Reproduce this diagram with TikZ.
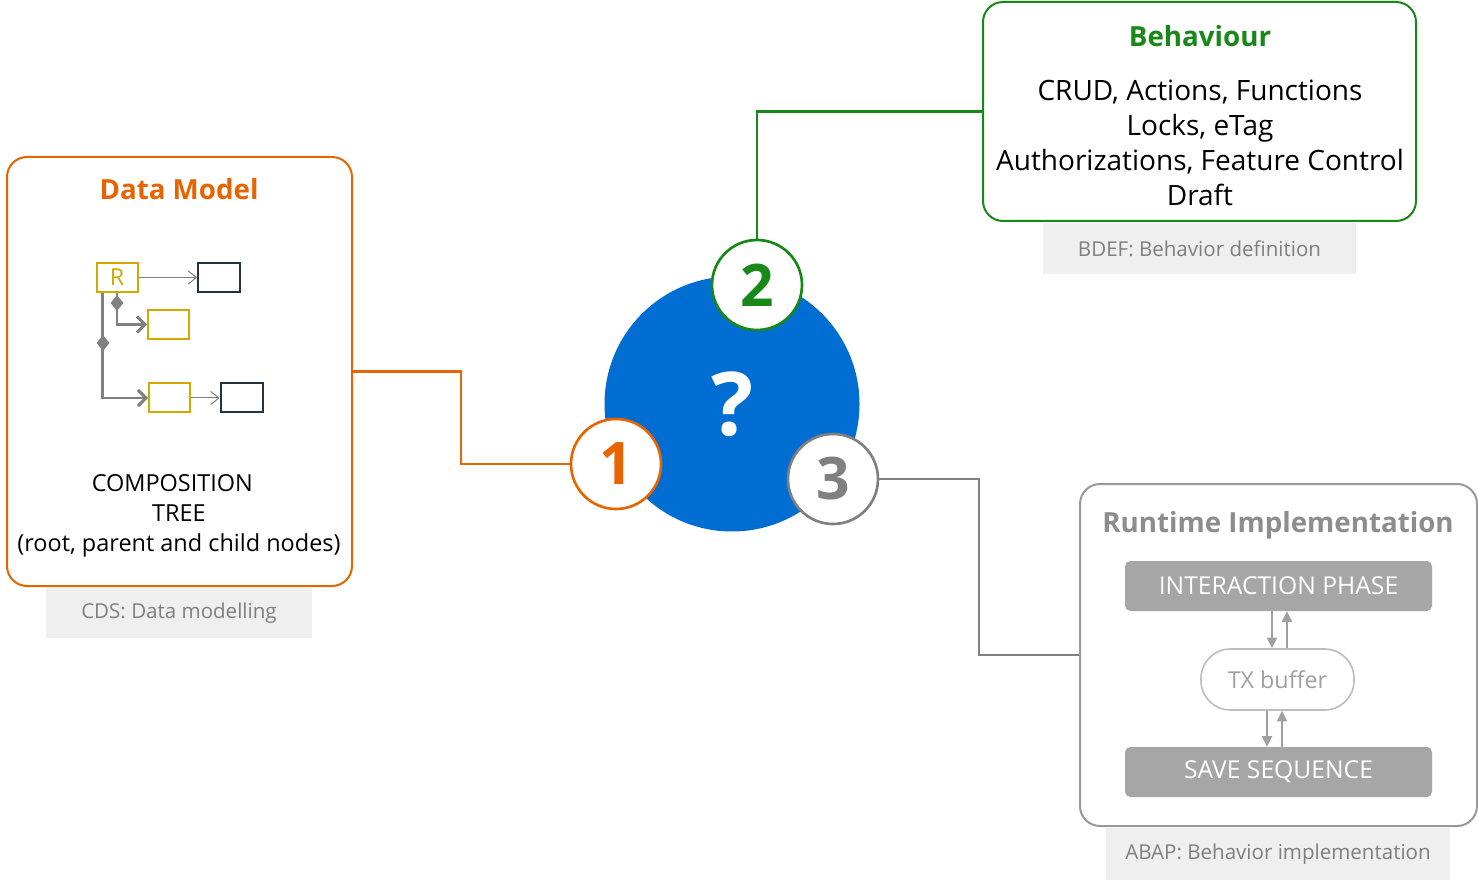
\documentclass[tikz,border=0pt]{standalone}
\usepackage{fontspec}
\setmainfont{Open Sans}
\usetikzlibrary{arrows.meta,shapes.geometric,calc}
\definecolor{orng}{HTML}{E76500}
\definecolor{grn}{HTML}{188918}
\definecolor{gry}{HTML}{808080}
\definecolor{lgry}{HTML}{A0A0A0}
\definecolor{barfill}{HTML}{A6A6A6}
\definecolor{rtline}{HTML}{999999}
\definecolor{blu}{HTML}{006DD2}
\definecolor{gold}{HTML}{D4A800}
\definecolor{dark}{HTML}{223441}
\definecolor{lblfill}{HTML}{EFEFEF}
\definecolor{lbltxt}{HTML}{7F7F7F}
\newcommand\fTitle{\fontsize{20.8}{24}\selectfont\bfseries}
\newcommand\fBody{\fontsize{21}{26.25}\selectfont}
\newcommand\fTree{\fontsize{17.6}{22.5}\selectfont}
\newcommand\fBar{\fontsize{18.5}{20}\selectfont}
\newcommand\fLbl{\fontsize{15.4}{18}\selectfont}
\newcommand\fNum{\fontsize{44}{44}\selectfont\bfseries}
\begin{document}
\begin{tikzpicture}[x=0.75pt,y=-0.75pt,
  bigbox/.style={draw, line width=1.5pt, rounded corners=15pt, fill=white, inner sep=0pt},
  lbl/.style={fill=lblfill, text=lbltxt, inner sep=0pt, font=\fLbl},
  bar/.style={fill=barfill, rounded corners=4pt, text=white, inner sep=0pt, font=\fBar, minimum width=307*0.75pt, minimum height=50*0.75pt},
  numc/.style={circle, draw, fill=white, line width=2pt, minimum size=90*0.75pt, inner sep=0pt, font=\fNum},
  conn/.style={line width=1.9pt},
  ybox/.style={draw=gold, line width=1.5pt, minimum width=41*0.75pt, minimum height=29*0.75pt, inner sep=0pt},
  dbox/.style={draw=dark, line width=1.5pt, minimum width=42*0.75pt, minimum height=29*0.75pt, inner sep=0pt},
  tarr/.style={draw=gry, line width=0.75pt, -{Straight Barb[length=6pt,width=10pt]}},
  karr/.style={draw=gry, line width=2.2pt, -{Straight Barb[length=6pt,width=12pt]}},
  dia/.style={diamond, fill=gry, inner sep=0pt, minimum width=13*0.75pt, minimum height=16*0.75pt},
  varr/.style={draw=lgry, line width=1.5pt, -{Triangle[length=8pt,width=7.5pt]}}
]
\useasboundingbox (0,0) rectangle (1478,880);

% ---------- Data model ----------
\node[bigbox, draw=orng, minimum width=345*0.75pt, minimum height=429*0.75pt] (dm) at (179.5,371.5) {};
\node[lbl, minimum width=266*0.75pt, minimum height=50*0.75pt] (cds) at (179,613) {CDS: Data modelling};
\node[text=orng, font=\fTitle, anchor=base] (dmt) at (179,200) {Data Model};

\node[ybox, text=gold, font=\fontsize{17.5}{17.5}\selectfont] (R) at (117,277.5) {R};
\node[dbox] (d1) at (219,277.5) {};
\node[ybox] (c1b) at (168.5,324.5) {};
\node[ybox] (c2b) at (169.5,398) {};
\node[dbox] (d2) at (241.5,398) {};
\draw[tarr] (R.east) -- (d1.west);
\draw[tarr] (c2b.east) -- (d2.west);
\draw[karr] (R.south) |- (c1b.west);
\coordinate (rl) at ($(R.south west)+(7,0)$);
\draw[karr] (rl) |- (c2b.west);
\node[dia] (dia1) at (117,303) {};
\node[dia] (dia2) at (103,343) {};

\node[font=\fTree, align=center] (comp) at (179,516) {COMPOSITION\hspace*{10pt}\\TREE\\(root, parent and child nodes)};

% ---------- Behaviour ----------
\node[bigbox, draw=grn, minimum width=433*0.75pt, minimum height=219*0.75pt] (beh) at (1199.5,111.5) {};
\node[text=grn, font=\fTitle, anchor=base] (beht) at (1200,47) {Behaviour};
\node[font=\fBody, align=center] (behb) at (1200,143) {CRUD, Actions, Functions\\Locks, eTag\\Authorizations, Feature Control\\Draft};
\node[lbl, minimum width=313*0.75pt, minimum height=51*0.75pt] (bdef) at (1199.5,248.5) {BDEF: Behavior definition};

% ---------- Runtime ----------
\node[bigbox, draw=rtline, minimum width=397*0.75pt, minimum height=342*0.75pt] (rt) at (1278.5,655) {};
\node[text=gry!90!white, font=\fTitle, anchor=base] (rtt) at (1278,532) {Runtime Implementation};
\node[bar] (ip) at (1278.5,586) {INTERACTION PHASE};
\node[draw=lgry!70!white, line width=1.2pt, rounded corners=22pt, minimum width=153*0.75pt, minimum height=61*0.75pt, inner sep=0pt, text=lgry, font=\fontsize{17.5}{20}\selectfont] (tx) at (1277.5,679.5) {TX buffer};
\node[bar] (ss) at (1278.5,772) {SAVE SEQUENCE};
\node[lbl, minimum width=344*0.75pt, minimum height=52*0.75pt] (abap) at (1278,854) {ABAP: Behavior implementation};
\coordinate (xa) at (1272,0);
\coordinate (xb) at (1287,0);
\coordinate (xc) at (1267,0);
\coordinate (xd) at (1282,0);
\draw[varr] (ip.south -| xa) -- (tx.north -| xa);
\draw[varr] (tx.north -| xb) -- (ip.south -| xb);
\draw[varr] (tx.south -| xc) -- (ss.north -| xc);
\draw[varr] (ss.north -| xd) -- (tx.south -| xd);

% ---------- Centre ----------
\node[circle, fill=blu, minimum size=255*0.75pt, inner sep=0pt, text=white, font=\fontsize{66}{66}\selectfont\bfseries] (q) at (732,404) {?};
\node[numc, draw=orng, text=orng] (n1) at (616,464) {1};
\node[numc, draw=grn, text=grn] (n2) at (757,285) {2};
\node[numc, draw=gry, text=gry] (n3) at (833,479) {3};

% ---------- Connectors ----------
\draw[conn, orng] (dm.east) -- (461,371.5) |- (n1.west);
\draw[conn, grn] (n2.north) |- (beh.west);
\draw[conn, gry] (n3.east) -- (979,479) |- (rt.west);
\end{tikzpicture}
\end{document}
